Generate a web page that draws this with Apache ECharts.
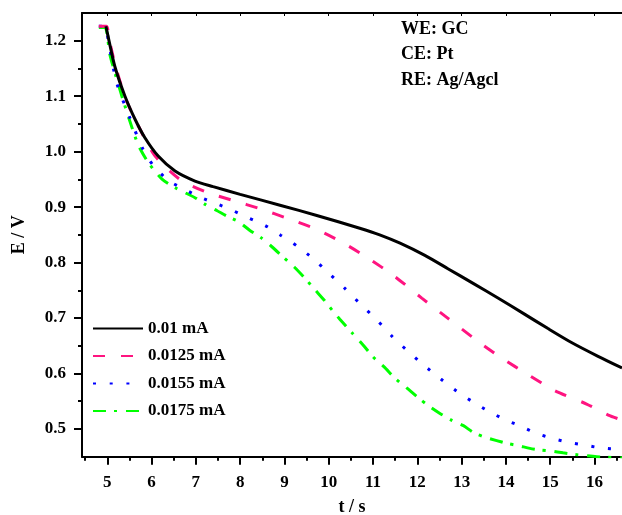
<!DOCTYPE html>
<html>
<head>
<meta charset="utf-8">
<script src="https://cdn.jsdelivr.net/npm/echarts@6/dist/echarts.min.js"></script>
<style>html,body{margin:0;padding:0;background:#fff}#c{width:622px;height:515px}</style>
</head>
<body>
<div id="c"></div>
<script>
const seriesNames = ['0.01 mA', '0.0125 mA', '0.0155 mA', '0.0175 mA'];
const xMajorTicks = [5, 6, 7, 8, 9, 10, 11, 12, 13, 14, 15, 16];
const xMinorTicks = [4.5, 5.5, 6.5, 7.5, 8.5, 9.5, 10.5, 11.5, 12.5, 13.5, 14.5, 15.5, 16.5];
const yMajorTicks = [0.5, 0.6, 0.7, 0.8, 0.9, 1.0, 1.1, 1.2];
const yMinorTicks = [0.55, 0.65, 0.75, 0.85, 0.95, 1.05, 1.15];
const annotations = ['WE: GC', 'CE: Pt', 'RE: Ag/Agcl'];

const data001 = [[4.97,1.226],[5.01,1.211],[5.17,1.154],[5.40,1.100],[5.63,1.058],[5.85,1.025],[6.15,0.992],[6.53,0.965],[6.98,0.947],[7.39,0.937],[8.0,0.923],[8.92,0.903],[9.73,0.885],[10.70,0.862],[11.15,0.850],[11.61,0.835],[12.17,0.813],[12.69,0.789],[13.25,0.763],[13.82,0.736],[14.40,0.708],[14.95,0.681],[15.50,0.655],[16.08,0.631],[16.62,0.610]];
const data00125 = [[4.81,1.226],[4.98,1.226],[5.05,1.200],[5.20,1.150],[5.44,1.091],[5.78,1.034],[6.08,0.992],[6.64,0.950],[7.24,0.927],[7.84,0.912],[8.45,0.897],[9.09,0.879],[9.69,0.861],[10.29,0.837],[10.89,0.808],[11.49,0.775],[12.10,0.736],[12.70,0.699],[13.30,0.662],[13.90,0.628],[14.50,0.598],[15.10,0.569],[15.82,0.545],[16.31,0.525],[16.62,0.516]];
const data00155 = [[4.81,1.226],[4.97,1.226],[5.02,1.202],[5.21,1.125],[5.51,1.061],[5.81,1.004],[6.04,0.975],[6.38,0.948],[6.75,0.932],[7.09,0.918],[7.47,0.906],[7.83,0.894],[8.20,0.880],[8.56,0.867],[8.92,0.849],[9.28,0.830],[9.65,0.807],[10.0,0.781],[10.37,0.753],[10.73,0.724],[11.08,0.697],[11.43,0.667],[11.79,0.640],[12.16,0.614],[12.53,0.590],[12.89,0.568],[13.25,0.549],[13.61,0.532],[13.97,0.517],[14.33,0.505],[14.69,0.492],[15.05,0.483],[15.41,0.476],[15.77,0.471],[16.13,0.466],[16.62,0.463]];
const data00175 = [[4.81,1.224],[4.95,1.224],[5.06,1.175],[5.20,1.135],[5.35,1.095],[5.51,1.055],[5.70,1.012],[5.93,0.980],[6.23,0.951],[6.53,0.935],[6.98,0.917],[7.21,0.905],[7.47,0.894],[7.72,0.883],[7.96,0.874],[8.22,0.858],[8.47,0.845],[8.71,0.829],[8.97,0.810],[9.22,0.792],[9.46,0.772],[9.69,0.751],[9.90,0.732],[10.10,0.712],[10.25,0.698],[10.54,0.672],[10.77,0.652],[11.0,0.630],[11.25,0.612],[11.49,0.592],[11.76,0.574],[12.01,0.557],[12.25,0.542],[12.51,0.528],[12.77,0.516],[13.04,0.506],[13.26,0.494],[13.53,0.485],[13.79,0.479],[14.02,0.474],[14.28,0.470],[14.54,0.465],[14.77,0.462],[15.03,0.460],[15.29,0.457],[15.56,0.454],[15.78,0.452],[16.05,0.450],[16.30,0.449],[16.62,0.448]];

const FONT = '"Liberation Serif", "Times New Roman", serif';
const colors = ['#000000', '#FF1480', '#0000FF', '#00FF00'];
const dashTypes = ['solid', [12, 16], [3, 13.7], [13, 8, 3, 9]];
const allData = [data001, data00125, data00155, data00175];

const chart = echarts.init(document.getElementById('c'), null, {renderer: 'canvas'});
const xMin = 4.43, xMax = 16.62, yMin = 0.45, yMax = 1.25;

const option = {
  animation: false,
  backgroundColor: '#fff',
  grid: {left: 82, top: 13, right: 0, bottom: 58.3, containLabel: false, outerBoundsMode: 'none'},
  legend: {
    orient: 'vertical', left: 87, top: 315,
    itemWidth: 50, itemHeight: 14, itemGap: 10.5,
    data: seriesNames,
    itemStyle: {opacity: 0},
    textStyle: {fontFamily: FONT, fontWeight: 'bold', fontSize: 17, color: '#000'}
  },
  xAxis: [
    {
      type: 'value', min: xMin, max: xMax, position: 'bottom',
      name: 't / s', nameLocation: 'middle', nameGap: 42,
      nameTextStyle: {fontFamily: FONT, fontWeight: 'bold', fontSize: 18, color: '#000'},
      axisLine: {show: true, lineStyle: {color: '#000', width: 2}},
      axisTick: {show: true, customValues: xMajorTicks, length: 8, lineStyle: {color: '#000', width: 2}},
      axisLabel: {customValues: xMajorTicks, margin: 17, fontFamily: FONT, fontWeight: 'bold', fontSize: 17, color: '#000'},
      splitLine: {show: false}
    },
    {
      type: 'value', min: xMin, max: xMax, position: 'bottom',
      axisLine: {show: false},
      axisTick: {show: true, customValues: xMinorTicks, length: 4, lineStyle: {color: '#000', width: 2}},
      axisLabel: {show: false},
      splitLine: {show: false}
    },
    {
      type: 'value', min: xMin, max: xMax, position: 'top',
      axisLine: {show: true, lineStyle: {color: '#000', width: 2}},
      axisTick: {show: true, inside: true, customValues: xMajorTicks, length: 3, lineStyle: {color: '#000', width: 1}},
      axisLabel: {show: false},
      splitLine: {show: false}
    }
  ],
  yAxis: [
    {
      type: 'value', min: yMin, max: yMax, position: 'left',
      name: 'E / V', nameLocation: 'middle', nameGap: 54, nameRotate: 90,
      nameTextStyle: {fontFamily: FONT, fontWeight: 'bold', fontSize: 18, color: '#000'},
      axisLine: {show: true, lineStyle: {color: '#000', width: 2}},
      axisTick: {show: true, customValues: yMajorTicks, length: 8, lineStyle: {color: '#000', width: 2}},
      axisLabel: {customValues: yMajorTicks, margin: 16, fontFamily: FONT, fontWeight: 'bold', fontSize: 17, color: '#000',
        formatter: v => v.toFixed(1)},
      splitLine: {show: false}
    },
    {
      type: 'value', min: yMin, max: yMax, position: 'left',
      axisLine: {show: false},
      axisTick: {show: true, customValues: yMinorTicks, length: 4, lineStyle: {color: '#000', width: 2}},
      axisLabel: {show: false},
      splitLine: {show: false}
    }
  ],
  graphic: annotations.map((t, i) => ({
    type: 'text', left: 401, top: 20 + i * 25.5,
    style: {text: t, font: 'bold 18px ' + FONT, fill: '#000'}
  })),
  series: seriesNames.map((n, i) => ({
    name: n, type: 'line', xAxisIndex: 0, yAxisIndex: 0,
    data: allData[i], showSymbol: false, symbol: 'none', smooth: 0.25, clip: true,
    lineStyle: {color: colors[i], width: 3, type: dashTypes[i], cap: 'butt'},
    itemStyle: {color: colors[i]},
    z: 10 - i
  }))
};
chart.setOption(option);
</script>
</body>
</html>
